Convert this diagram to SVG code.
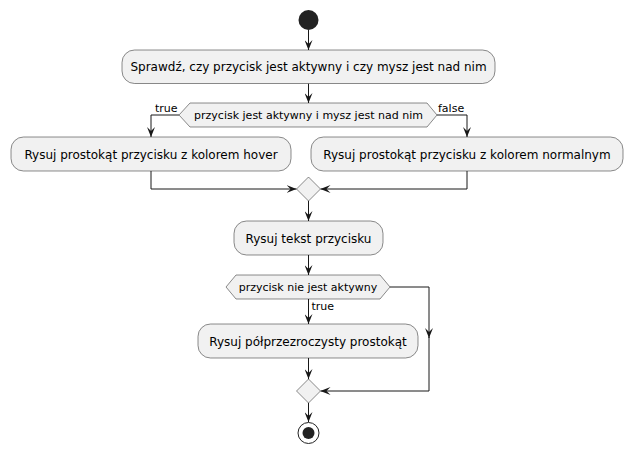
<svg xmlns="http://www.w3.org/2000/svg" width="632" height="454" viewBox="0 0 632 454">
<defs>
<style>
.box{fill:#F1F1F1;stroke:#181818;stroke-width:0.5}
.ln{fill:none;stroke:#181818;stroke-width:1}
.t{font-family:"DejaVu Sans",sans-serif;font-size:12px;fill:#000;text-anchor:middle}
.s{font-family:"DejaVu Sans",sans-serif;font-size:11px;fill:#000}
</style>
<marker id="ah" viewBox="0 0 10 8" refX="10" refY="4" markerWidth="10" markerHeight="8" markerUnits="userSpaceOnUse" orient="auto">
<path d="M0,0 L10,4 L0,8 L4,4 Z" fill="#181818"/>
</marker>
</defs>
<g id="connectors">
<path class="ln" d="M308.5,30 L308.5,50" marker-end="url(#ah)"/>
<path class="ln" d="M308.5,83.5 L308.5,103" marker-end="url(#ah)"/>
<path class="ln" d="M179,115 L151,115 L151,137" marker-end="url(#ah)"/>
<path class="ln" d="M437,115 L467,115 L467,137" marker-end="url(#ah)"/>
<path class="ln" d="M151,171 L151,189 L296.5,189" marker-end="url(#ah)"/>
<path class="ln" d="M467,171 L467,189 L320.5,189" marker-end="url(#ah)"/>
<path class="ln" d="M308.5,201 L308.5,221" marker-end="url(#ah)"/>
<path class="ln" d="M308.5,255 L308.5,275" marker-end="url(#ah)"/>
<path class="ln" d="M308.5,299 L308.5,324" marker-end="url(#ah)"/>
<path class="ln" d="M308.5,358 L308.5,379" marker-end="url(#ah)"/>
<path class="ln" d="M390,287 L429,287 L429,338" marker-end="url(#ah)"/>
<path class="ln" d="M429,337 L429,391 L320.5,391" marker-end="url(#ah)"/>
<path class="ln" d="M308.5,403 L308.5,422" marker-end="url(#ah)"/>
<text class="s" x="155" y="112">true</text>
<text class="s" x="438" y="112">false</text>
<text class="s" x="311.5" y="310">true</text>
</g>
<g id="start"><circle cx="308.5" cy="20" r="10" fill="#222222"/></g>
<g id="check">
<rect class="box" x="122" y="50" width="373" height="33.5" rx="12.5"/>
<text class="t" x="308.5" y="71">Sprawdź, czy przycisk jest aktywny i czy mysz jest nad nim</text>
</g>
<g id="cond1">
<polygon class="box" points="179,115 190,103 427,103 437,115 427,127 190,127"/>
<text class="s" x="308.5" y="119" text-anchor="middle">przycisk jest aktywny i mysz jest nad nim</text>
</g>
<g id="hover">
<rect class="box" x="11" y="137" width="280" height="34" rx="12.5"/>
<text class="t" x="151" y="158.5">Rysuj prostokąt przycisku z kolorem hover</text>
</g>
<g id="normal">
<rect class="box" x="311" y="137" width="312" height="34" rx="12.5"/>
<text class="t" x="467" y="158.5">Rysuj prostokąt przycisku z kolorem normalnym</text>
</g>
<g id="merge1"><polygon class="box" points="308.5,177 320.5,189 308.5,201 296.5,189"/></g>
<g id="text">
<rect class="box" x="234" y="221" width="149" height="34" rx="12.5"/>
<text class="t" x="308.5" y="242.5">Rysuj tekst przycisku</text>
</g>
<g id="cond2">
<polygon class="box" points="226,287 236,275 380,275 390,287 380,299 236,299"/>
<text class="s" x="308" y="291" text-anchor="middle">przycisk nie jest aktywny</text>
</g>
<g id="semi">
<rect class="box" x="198" y="324" width="220" height="34" rx="12.5"/>
<text class="t" x="308" y="345.5">Rysuj półprzezroczysty prostokąt</text>
</g>
<g id="merge2"><polygon class="box" points="308.5,379 320.5,391 308.5,403 296.5,391"/></g>
<g id="end">
<circle cx="308.5" cy="433" r="10.5" fill="none" stroke="#222222" stroke-width="1"/>
<circle cx="308.5" cy="433" r="6" fill="#222222"/>
</g>
</svg>
